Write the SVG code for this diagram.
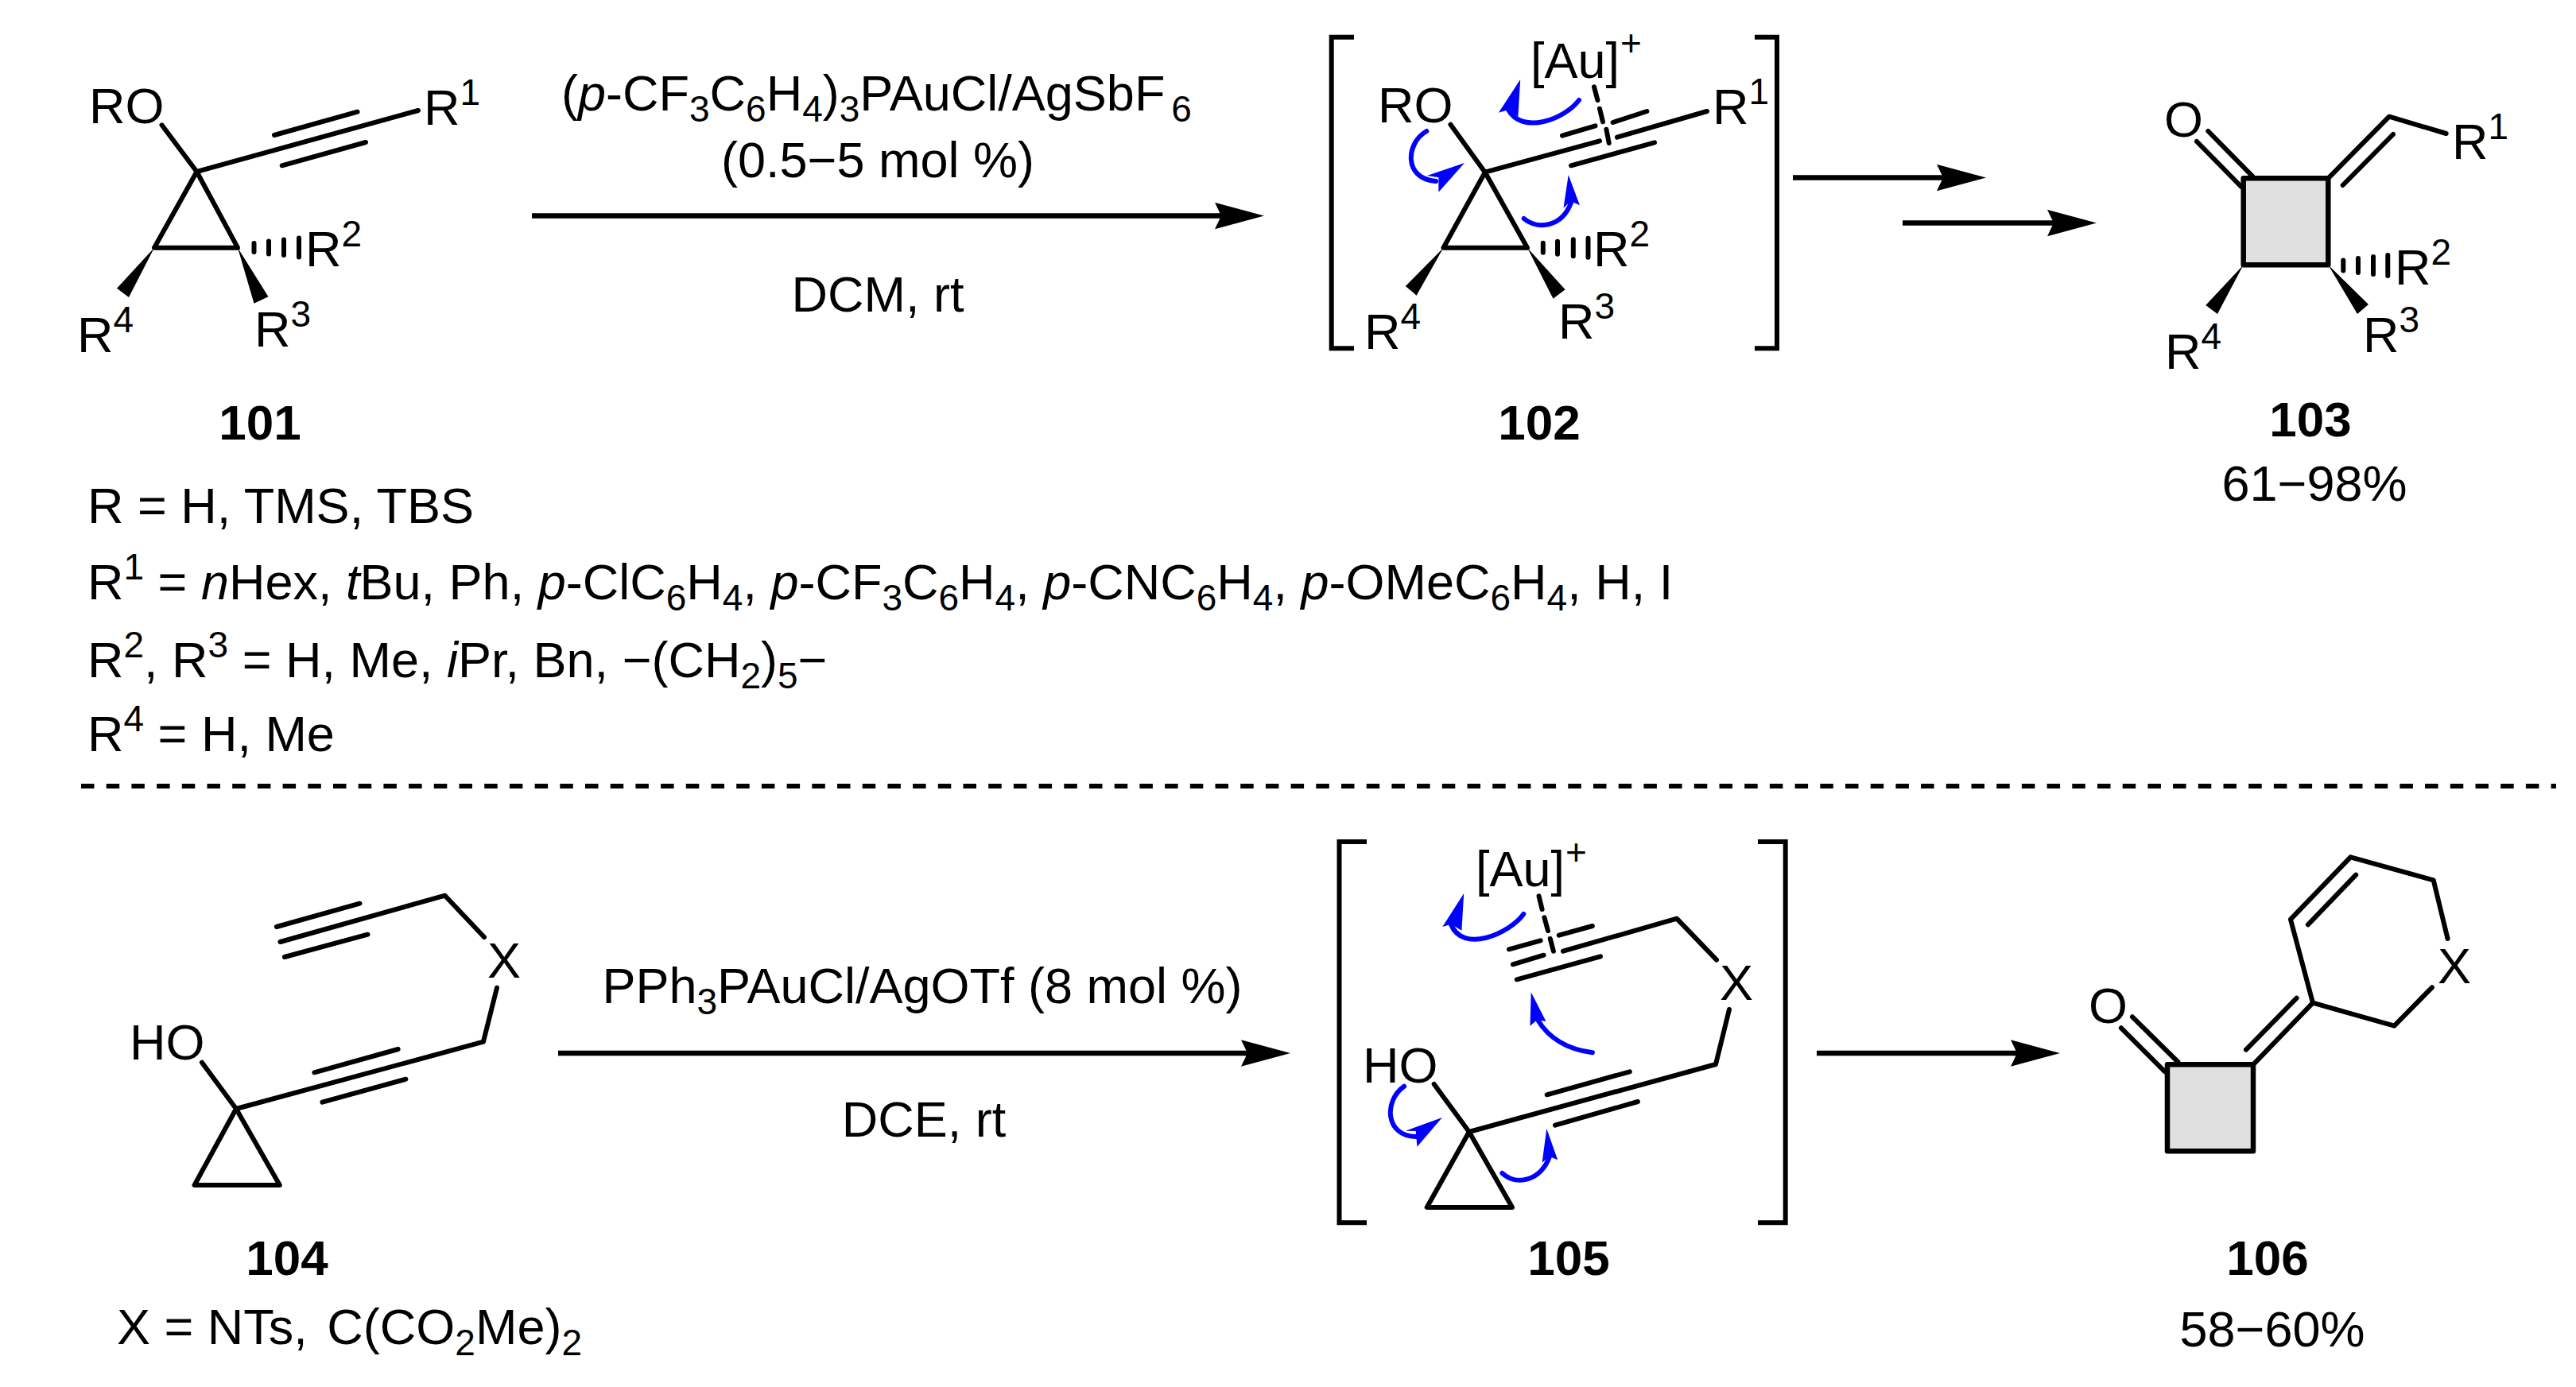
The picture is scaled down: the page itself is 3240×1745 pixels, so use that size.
<svg xmlns="http://www.w3.org/2000/svg" width="3240" height="1745" viewBox="0 0 3240 1745">
<style>
text{font-family:"Liberation Sans",Arial,sans-serif;font-size:63px;fill:#000}
.b{font-weight:700;font-size:62px}
.m{text-anchor:middle}
.i{font-style:italic}
.s{font-size:46px}
.bond{fill:none;stroke:#000;stroke-width:6;stroke-linecap:round;stroke-linejoin:round}
.br{fill:none;stroke:#000;stroke-width:6;stroke-linejoin:miter}
.ring{fill:#e0e0e0;stroke:#000;stroke-width:6.5;stroke-linejoin:round}
.curve{fill:none;stroke:#0000ff;stroke-width:6;stroke-linecap:round}
.head{fill:#0000ff}
.arrow{stroke:#000;stroke-width:6.5;fill:none;marker-end:url(#arr)}
.dash{stroke:#000;stroke-width:6;stroke-dasharray:16.5 15.2;fill:none}
</style>
<defs>
<marker id="arr" markerUnits="userSpaceOnUse" viewBox="0 -17 63 34" markerWidth="63" markerHeight="34" refX="8" refY="0" orient="auto"><path d="M0,-16.7L62,0L0,16.7L8,0Z" fill="#000"/></marker>
</defs>
<rect width="3240" height="1745" fill="#fff"/>

<g id="connectors">
<line class="arrow" x1="669" y1="271.5" x2="1536" y2="271.5"/>
<line class="arrow" x1="2255" y1="223.5" x2="2444" y2="223.5"/>
<line class="arrow" x1="2393" y1="280.5" x2="2583" y2="280.5"/>
<line class="arrow" x1="702" y1="1325" x2="1569" y2="1325"/>
<line class="arrow" x1="2285" y1="1325" x2="2537" y2="1325"/>
<line class="dash" x1="102" y1="989" x2="3215" y2="989"/>
</g>

<g id="compound-101">
<path class="bond" d="M203.5,157.3L247.5,216L526,139M345,170L449.6,140.7M354.7,208.3L460,179M247.5,216L194,311.7H299Z"/>
<path d="M194,311.7L147,362.7L162,374ZM299,311.7L319.5,381.7L337.5,373.3Z"/>
<path class="bond" d="M319.5,306V317M338,303.5V319.5M357,301.5V321M376,299.5V323.5"/>
<text x="112" y="155">RO</text>
<text x="533" y="156.7">R<tspan class="s" dy="-25">1</tspan></text>
<text x="384" y="335">R<tspan class="s" dy="-25">2</tspan></text>
<text x="320" y="435.7">R<tspan class="s" dy="-25">3</tspan></text>
<text x="97" y="443.3">R<tspan class="s" dy="-25">4</tspan></text>
<text class="b m" x="327" y="553">101</text>
</g>

<g id="substituents">
<text x="110" y="658.3">R = H, TMS, TBS</text>
<text x="110" y="754">R<tspan class="s" dy="-25">1</tspan><tspan dy="25"> = </tspan><tspan class="i">n</tspan>Hex, <tspan class="i">t</tspan>Bu, Ph, <tspan class="i">p</tspan>-ClC<tspan class="s" dy="14">6</tspan><tspan dy="-14">H</tspan><tspan class="s" dy="14">4</tspan><tspan dy="-14">, </tspan><tspan class="i">p</tspan>-CF<tspan class="s" dy="14">3</tspan><tspan dy="-14">C</tspan><tspan class="s" dy="14">6</tspan><tspan dy="-14">H</tspan><tspan class="s" dy="14">4</tspan><tspan dy="-14">, </tspan><tspan class="i">p</tspan>-CNC<tspan class="s" dy="14">6</tspan><tspan dy="-14">H</tspan><tspan class="s" dy="14">4</tspan><tspan dy="-14">, </tspan><tspan class="i">p</tspan>-OMeC<tspan class="s" dy="14">6</tspan><tspan dy="-14">H</tspan><tspan class="s" dy="14">4</tspan><tspan dy="-14">, H, I</tspan></text>
<text x="110" y="852.3">R<tspan class="s" dy="-25">2</tspan><tspan dy="25">, R</tspan><tspan class="s" dy="-25">3</tspan><tspan dy="25"> = H, Me, </tspan><tspan class="i">i</tspan>Pr, Bn, −(CH<tspan class="s" dy="14">2</tspan><tspan dy="-14">)</tspan><tspan class="s" dy="14">5</tspan><tspan dy="-14">−</tspan></text>
<text x="110" y="945.3">R<tspan class="s" dy="-25">4</tspan><tspan dy="25"> = H, Me</tspan></text>
</g>

<g id="conditions-top">
<text x="706" y="139">(<tspan class="i">p</tspan>-CF<tspan class="s" dy="14">3</tspan><tspan dy="-14">C</tspan><tspan class="s" dy="14">6</tspan><tspan dy="-14">H</tspan><tspan class="s" dy="14">4</tspan><tspan dy="-14">)</tspan><tspan class="s" dy="14">3</tspan><tspan dy="-14">PAuCl/AgSbF</tspan><tspan class="s" dx="8" dy="14">6</tspan></text>
<text class="m" x="1104" y="223.3">(0.5−5 mol %)</text>
<text class="m" x="1104" y="392.3">DCM, rt</text>
</g>

<g id="compound-102">
<path class="br" d="M1703,46.7H1674.7V438.3H1703M2207,46.7H2235V438.3H2207"/>
<path class="bond" d="M1824.5,156.7L1867.8,216.7L2012,177.3M2034,172.7L2147,140M1965,170.7L2006.5,158.3M2028.6,154L2071.4,140M1976,208.3L2081,179.3M1867.8,216.7L1815.5,311.7H1921Z"/>
<path class="bond" d="M2005,109.3L2009.4,126M2012,136.7L2016,153.3M2020.4,162.7L2023.7,180"/>
<path d="M1815.5,311.7L1767.8,360L1781.6,371.7ZM1921,311.7L1968.6,364.3L1953.5,375.7Z"/>
<path class="bond" d="M1940.8,305.7V317.7M1959,303.7V319.7M1978.8,301.2V322.2M1997.5,299.7V323.7"/>
<path class="curve" d="M1986,126C1968,150 1915,170 1897,138"/>
<polygon class="head" points="1912.2,100 1884.9,141.7 1897,138.3 1909.4,146.7"/>
<path class="curve" d="M1794.3,165C1768,180 1765,225 1806,228"/>
<polygon class="head" points="1842,205 1795,221 1809.4,223.3 1809.4,241.7"/>
<path class="curve" d="M1916.7,275C1935,290 1965,285 1976,255"/>
<polygon class="head" points="1972.7,220 1966.5,261.7 1975.5,253 1987,258.3"/>
<text x="1733" y="154.3">RO</text>
<text x="1925" y="98.3">[Au]<tspan class="s" dx="1" dy="-28">+</tspan></text>
<text x="2154" y="156">R<tspan class="s" dy="-25">1</tspan></text>
<text x="2004" y="335">R<tspan class="s" dy="-25">2</tspan></text>
<text x="1960" y="426">R<tspan class="s" dy="-25">3</tspan></text>
<text x="1716" y="439">R<tspan class="s" dy="-25">4</tspan></text>
<text class="b m" x="1936" y="553">102</text>
</g>

<g id="compound-103">
<rect class="ring" x="2821.7" y="224.3" width="106.6" height="109"/>
<path class="bond" d="M2777.3,165L2833,221.7M2763,178L2819,235M2928.3,224.3L3005,146.7L3076.7,168M2946.7,233L3010,169"/>
<path d="M2821.7,333.3L2774.3,384L2789,395ZM2928.3,333.3L2979,383L2965,395Z"/>
<path class="bond" d="M2947.3,327.5V340.5M2966,325V343M2985,323V345M3003.3,321V347"/>
<text x="2722" y="171.7">O</text>
<text x="3084" y="200">R<tspan class="s" dy="-25">1</tspan></text>
<text x="3012" y="358">R<tspan class="s" dy="-25">2</tspan></text>
<text x="2972" y="443">R<tspan class="s" dy="-25">3</tspan></text>
<text x="2723" y="464">R<tspan class="s" dy="-25">4</tspan></text>
<text class="b m" x="2906" y="549">103</text>
<text class="m" x="2911" y="630">61−98%</text>
</g>

<g id="compound-104">
<path class="bond" d="M254,1336.7L297,1395L607.9,1310.7L625,1242.7M395.4,1349.3L500.7,1320M405.4,1386.7L510.4,1357.7M297,1395L244.6,1491H351.8ZM352.5,1185L559.6,1126.7L609,1179M347.9,1166L452.5,1136.7M357.9,1204L462.5,1175.7"/>
<text x="163" y="1333.3">HO</text>
<text x="613" y="1230">X</text>
<text class="b m" x="361" y="1604">104</text>
<text x="147" y="1690.7">X = NTs, <tspan dx="7">C(CO</tspan><tspan class="s" dy="14">2</tspan><tspan dy="-14">Me)</tspan><tspan class="s" dy="14">2</tspan></text>
</g>

<g id="conditions-bottom">
<text class="m" x="1160" y="1262.3">PPh<tspan class="s" dy="14">3</tspan><tspan dy="-14">PAuCl/AgOTf (8 mol %)</tspan></text>
<text class="m" x="1162" y="1430">DCE, rt</text>
</g>

<g id="compound-105">
<path class="br" d="M1719,1059H1684.5V1538.3H1719M2211,1059H2245.7V1538.3H2211"/>
<path class="bond" d="M1803.7,1364L1847.8,1424L2158,1339L2175,1270M1945.7,1377.3L2049.8,1348.3M1956,1415.7L2060,1386M1847.8,1424L1794.7,1519H1902ZM1966,1196.7L2109,1155.7L2159,1207.7M1898,1194.3L1937.6,1183.3M1960.8,1176.7L2002.9,1165M1902.9,1213.3L1941.6,1201.7M1907.8,1232.3L2013,1203.3"/>
<path class="bond" d="M1935.5,1127.3L1939.6,1144M1942.4,1154.3L1947,1171M1949.8,1181L1953.9,1196.7"/>
<path class="curve" d="M1916.3,1150C1898,1175 1840,1200 1825,1163"/>
<polygon class="head" points="1841.2,1124 1814.3,1166 1825.3,1162.7 1838.4,1170.7"/>
<path class="curve" d="M2002.9,1324.3Q1955,1318 1934,1283"/>
<polygon class="head" points="1925.7,1248.3 1924.5,1290.7 1933.5,1283 1944.5,1285"/>
<path class="curve" d="M1766,1366.7C1740,1385 1742,1430 1782,1430"/>
<polygon class="head" points="1813.9,1406 1768,1422.7 1780.8,1423 1782.4,1442.7"/>
<path class="curve" d="M1889.4,1476C1908,1493 1938,1485 1949,1455"/>
<polygon class="head" points="1945.3,1420 1939.6,1462.7 1949,1455 1959.2,1459.3"/>
<text x="1856" y="1115">[Au]<tspan class="s" dx="1" dy="-27">+</tspan></text>
<text x="1714" y="1361.7">HO</text>
<text x="2163" y="1258.3">X</text>
<text class="b m" x="1973" y="1604">105</text>
</g>

<g id="compound-106">
<rect class="ring" x="2726" y="1339.3" width="108" height="109"/>
<path class="bond" d="M2682,1279.3L2739.3,1336M2667.9,1293.3L2723,1348.3M2834,1339.3L2909,1261.7L2881,1156.7L2956.4,1078.3L3060.7,1107.3L3078.6,1181M2825,1320.7L2888.6,1255.7M2902.9,1163.3L2963.2,1100.7M2909,1261.7L3011.4,1290.7L3058.9,1242.3"/>
<text x="2627" y="1286.7">O</text>
<text x="3066" y="1236.7">X</text>
<text class="b m" x="2852" y="1604">106</text>
<text class="m" x="2858" y="1694">58−60%</text>
</g>
</svg>
